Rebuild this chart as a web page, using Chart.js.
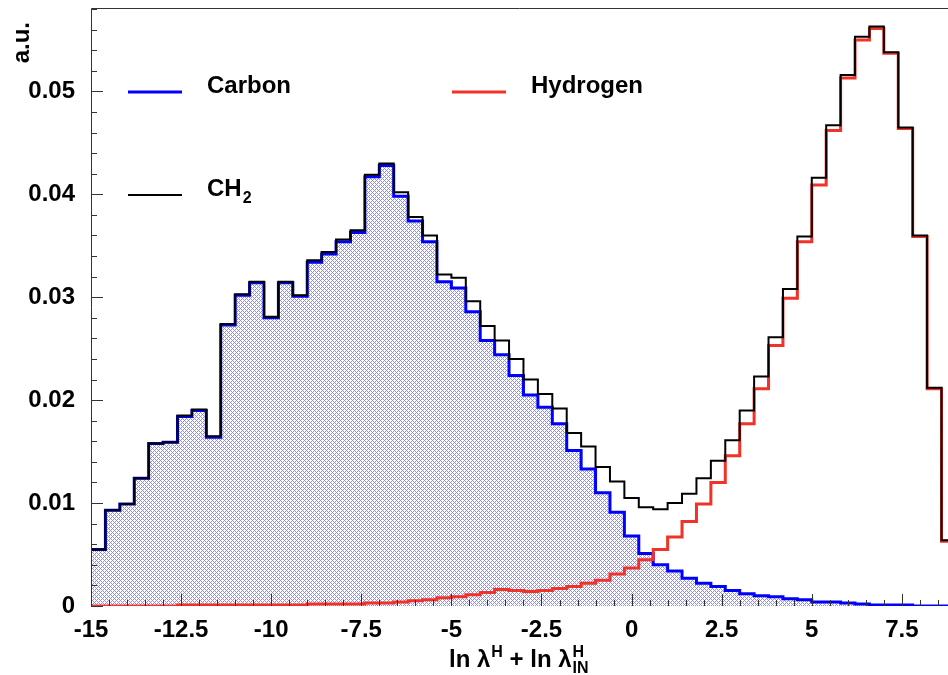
<!DOCTYPE html>
<html>
<head>
<meta charset="utf-8">
<script src="https://cdn.jsdelivr.net/npm/chart.js@4.4.0/dist/chart.umd.min.js"></script>
<style>
  body { margin: 0; background: #fff; }
  #wrap { width: 948px; height: 675px; position: relative; }
</style>
</head>
<body>
<div id="wrap"><canvas id="myChart"></canvas></div>
<script>
// histogram binning (60 bins of 0.4 from -15 to 9)
const binLow = -15;
const binWidth = 0.4;

const carbon = [
  0.0055, 0.0093, 0.0099, 0.0124, 0.0158, 0.0159, 0.0184, 0.0190, 0.0164, 0.0273,
  0.0302, 0.0314, 0.0280, 0.0314, 0.0301, 0.0334, 0.0342, 0.0354, 0.0363, 0.0417,
  0.0428, 0.0398, 0.0374, 0.0354, 0.0315, 0.0309, 0.0286, 0.0258, 0.0244, 0.0224,
  0.0205, 0.0193, 0.0177, 0.0151, 0.0133, 0.0110, 0.0091, 0.0068, 0.0051, 0.0040,
  0.0034, 0.0027, 0.0022, 0.0019, 0.0015, 0.0012, 0.0010, 0.0009, 0.0007, 0.0006,
  0.0004, 0.0004, 0.0003, 0.0002, 0.0001, 0.0001, 0.0001, 0.0000, 0.0000, 0.0000
];
const hydrogen = [
  0.0000, 0.0000, 0.0000, 0.0000, 0.0000, 0.0000, 0.0001, 0.0001, 0.0001, 0.0001,
  0.0001, 0.0001, 0.0001, 0.0001, 0.0001, 0.0002, 0.0002, 0.0002, 0.0002, 0.0003,
  0.0003, 0.0004, 0.0005, 0.0006, 0.0008, 0.0009, 0.0011, 0.0013, 0.0016, 0.0015,
  0.0014, 0.0015, 0.0017, 0.0019, 0.0022, 0.0025, 0.0031, 0.0037, 0.0045, 0.0055,
  0.0067, 0.0082, 0.0099, 0.0120, 0.0146, 0.0177, 0.0211, 0.0253, 0.0299, 0.0354,
  0.0409, 0.0462, 0.0513, 0.0550, 0.0561, 0.0537, 0.0464, 0.0359, 0.0211, 0.0063
];
const ch2 = [
  0.0055, 0.0093, 0.0099, 0.0124, 0.0158, 0.0159, 0.0185, 0.0191, 0.0165, 0.0274,
  0.0303, 0.0315, 0.0281, 0.0315, 0.0302, 0.0336, 0.0344, 0.0356, 0.0365, 0.0419,
  0.0430, 0.0402, 0.0378, 0.0360, 0.0322, 0.0319, 0.0296, 0.0272, 0.0258, 0.0240,
  0.0220, 0.0206, 0.0192, 0.0168, 0.0155, 0.0135, 0.0121, 0.0105, 0.0096, 0.0094,
  0.0100, 0.0109, 0.0124, 0.0141, 0.0161, 0.0190, 0.0223, 0.0261, 0.0308, 0.0359,
  0.0416, 0.0467, 0.0516, 0.0553, 0.0563, 0.0538, 0.0465, 0.0360, 0.0212, 0.0064
];

const xTicks = [-15, -12.5, -10, -7.5, -5, -2.5, 0, 2.5, 5, 7.5];
const yTicks = [0, 0.01, 0.02, 0.03, 0.04, 0.05];

// turn bin contents into step points (left edges + closing right edge)
function toSteps(vals) {
  const pts = vals.map(function(v, i){ return { x: binLow + i * binWidth, y: v }; });
  pts.push({ x: binLow + vals.length * binWidth, y: vals[vals.length - 1] });
  return pts;
}

// blue cross hatch like ROOT fill style
function hatch() {
  const c = document.createElement('canvas');
  c.width = 4; c.height = 4;
  const g = c.getContext('2d');
  g.fillStyle = '#fff';
  g.fillRect(0, 0, 4, 4);
  g.fillStyle = 'rgb(140,140,248)';
  for (let x = 0; x < 4; x++) {
    for (let y = 0; y < 4; y++) {
      if ((x + y) % 4 === 0 || (x - y + 4) % 4 === 0) g.fillRect(x, y, 1, 1);
    }
  }
  return g.createPattern(c, 'repeat');
}

const FONT = '"Liberation Sans", Arial, Helvetica, sans-serif';

// frame, inside ticks, legend and axis titles
const decor = {
  id: 'decor',
  afterDraw(chart) {
    const ctx = chart.ctx;
    const a = chart.chartArea;
    const xs = chart.scales.x, ys = chart.scales.y;
    ctx.save();
    ctx.strokeStyle = '#333';
    ctx.lineWidth = 1;
    ctx.beginPath();
    ctx.moveTo(a.left + 0.5, a.bottom);
    ctx.lineTo(a.left + 0.5, a.top + 0.5);
    ctx.lineTo(a.right, a.top + 0.5);
    ctx.stroke();
    // y ticks
    ctx.beginPath();
    for (let v = 0; v <= ys.max + 1e-9; v += 0.002) {
      const py = Math.round(ys.getPixelForValue(v)) + 0.5;
      const major = Math.abs(v / 0.01 - Math.round(v / 0.01)) < 1e-6;
      ctx.moveTo(a.left, py);
      ctx.lineTo(a.left + (major ? 12 : 6), py);
    }
    // x ticks
    for (let v = -15; v <= xs.max + 1e-9; v += 0.5) {
      const px = Math.round(xs.getPixelForValue(v)) + 0.5;
      const major = Math.abs(v / 2.5 - Math.round(v / 2.5)) < 1e-6;
      ctx.moveTo(px, a.bottom);
      ctx.lineTo(px, a.bottom - (major ? 12 : 6));
    }
    ctx.stroke();

    // legend
    const ds = chart.data.datasets;
    const items = [
      { d: ds[2], lx: 128, ly: 92, tx: 207 },
      { d: ds[1], lx: 452, ly: 92, tx: 531 },
      { d: ds[0], lx: 128, ly: 195, tx: 207 }
    ];
    ctx.fillStyle = '#000';
    ctx.textBaseline = 'alphabetic';
    items.forEach(function(it){
      ctx.strokeStyle = it.d.borderColor;
      ctx.lineWidth = it.d.borderWidth;
      ctx.beginPath();
      ctx.moveTo(it.lx, it.ly);
      ctx.lineTo(it.lx + 54, it.ly);
      ctx.stroke();
      ctx.font = 'bold 24px ' + FONT;
      ctx.textAlign = 'left';
      const lab = it.d.label;
      if (lab === 'CH2') {
        ctx.fillText('CH', it.tx, it.ly + 1);
        const w = ctx.measureText('CH').width;
        ctx.font = 'bold 16px ' + FONT;
        ctx.fillText('2', it.tx + w + 1, it.ly + 8);
      } else {
        ctx.fillText(lab, it.tx, it.ly + 1);
      }
    });

    // y title
    ctx.save();
    ctx.translate(29, 22);
    ctx.rotate(-Math.PI / 2);
    ctx.font = 'bold 24px ' + FONT;
    ctx.textAlign = 'right';
    ctx.fillText('a.u.', 0, 0);
    ctx.restore();

    // x title: ln λ^H + ln λ^H_IN
    let x = 449;
    const base = 667;
    ctx.textAlign = 'left';
    ctx.font = 'bold 24px ' + FONT;
    ctx.fillText('ln λ', x, base);
    x += ctx.measureText('ln λ').width + 1;
    ctx.font = 'bold 16px ' + FONT;
    ctx.fillText('H', x, base - 10);
    x += ctx.measureText('H').width;
    ctx.font = 'bold 24px ' + FONT;
    ctx.fillText(' + ln λ', x, base);
    x += ctx.measureText(' + ln λ').width + 1;
    ctx.font = 'bold 16px ' + FONT;
    ctx.fillText('H', x, base - 10);
    ctx.fillText('IN', x, base + 6);
    ctx.restore();
  }
};

Chart.defaults.font.family = FONT;
Chart.defaults.font.weight = 'bold';
Chart.defaults.font.size = 24;
Chart.defaults.color = '#000';

const ctx = document.getElementById('myChart').getContext('2d');
const myChart = new Chart(ctx, {
  type: 'line',
  data: {
    datasets: [
      {
        label: 'CH2', data: toSteps(ch2), stepped: true,
        borderColor: '#000', borderWidth: 2, pointRadius: 0, fill: false, order: 0
      },
      {
        label: 'Hydrogen', data: toSteps(hydrogen), stepped: true,
        borderColor: 'rgb(240,50,40)', borderWidth: 3, pointRadius: 0, fill: false, order: 1
      },
      {
        label: 'Carbon', data: toSteps(carbon), stepped: true,
        borderColor: 'rgb(0,0,255)', borderWidth: 3, pointRadius: 0,
        fill: 'origin', backgroundColor: hatch(), order: 2
      }
    ]
  },
  options: {
    responsive: true,
    maintainAspectRatio: false,
    animation: false,
    layout: { padding: { top: 8, right: 0, left: 0, bottom: 0 } },
    plugins: { legend: { display: false }, tooltip: { enabled: false } },
    scales: {
      x: {
        type: 'linear', min: -15, max: 8.78,
        grid: { display: false, drawTicks: false },
        border: { display: false },
        afterBuildTicks: function(s){ s.ticks = xTicks.map(function(v){ return { value: v }; }); },
        afterFit: function(s){ s.height = 69; s.paddingLeft = 0; s.paddingRight = 0; },
        ticks: { autoSkip: false, maxRotation: 0, padding: 10,
          callback: function(v){ return String(v); } }
      },
      y: {
        min: 0, max: 0.0581,
        grid: { display: false, drawTicks: false },
        border: { display: false },
        afterBuildTicks: function(s){ s.ticks = yTicks.map(function(v){ return { value: v }; }); },
        afterFit: function(s){ s.width = 91; s.paddingTop = 0; s.paddingBottom = 0; },
        ticks: { padding: 16, callback: function(v){ return String(v); } }
      }
    }
  },
  plugins: [decor]
});
</script>
</body>
</html>
